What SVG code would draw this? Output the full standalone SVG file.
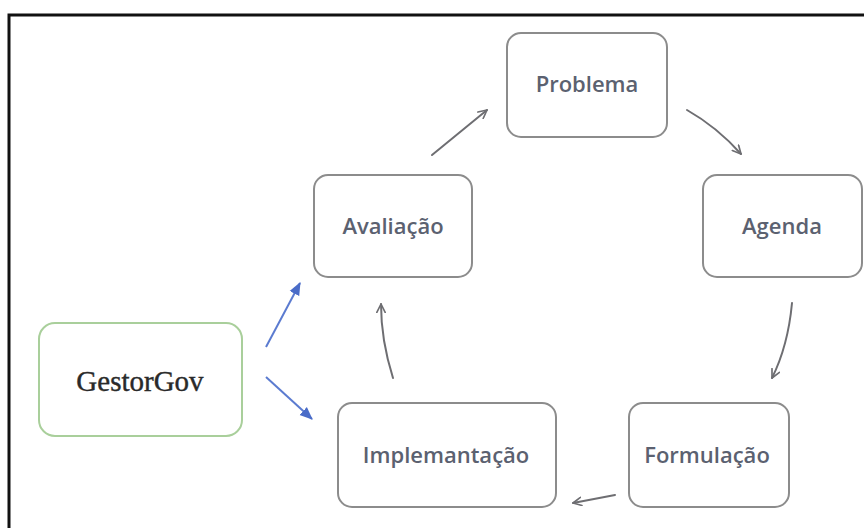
<svg xmlns="http://www.w3.org/2000/svg" width="864" height="528" viewBox="0 0 864 528">
  <style>
    .box { fill: #ffffff; stroke: #8c8c8c; stroke-width: 2; }
    .gov { fill: #ffffff; stroke: #a9cf9b; stroke-width: 2; }
    .lbl { font-family: "Open Sans", "Noto Sans", "Liberation Sans", sans-serif; font-size: 22px; font-weight: 600; fill: #5b6170; text-anchor: middle; }
    .gtxt { font-family: "Liberation Serif", "Times New Roman", serif; font-size: 29px; fill: #2a2a2a; stroke: #2a2a2a; stroke-width: 0.4; text-anchor: middle; }
    .flow { fill: none; stroke: #6e6e72; stroke-width: 2; stroke-linecap: round; marker-end: url(#open); }
    .link { fill: none; stroke: #5b7bd0; stroke-width: 2; marker-end: url(#solid); }
  </style>
  <defs>
    <marker id="open" viewBox="0 0 12 12" refX="11" refY="6" markerWidth="10" markerHeight="10" markerUnits="userSpaceOnUse" orient="auto">
      <path d="M1,1 L11,6 L1,11" fill="none" stroke="#6e6e72" stroke-width="2" stroke-linecap="round" stroke-linejoin="round"/>
    </marker>
    <marker id="solid" viewBox="0 0 12 12" refX="11" refY="6" markerWidth="13" markerHeight="13" markerUnits="userSpaceOnUse" orient="auto">
      <path d="M0,1 L12,6 L0,11 Z" fill="#4a6cc8"/>
    </marker>
  </defs>

  <rect width="864" height="528" fill="#ffffff"/>
  <!-- outer frame (right and bottom sides run off the canvas) -->
  <rect x="9" y="15" width="880" height="540" fill="none" stroke="#111111" stroke-width="3"/>

  <g id="connectors">
    <path class="flow" d="M432,155 L487,110"/>
    <path class="flow" d="M687,110 Q717,127 741,154"/>
    <path class="flow" d="M792,303 Q788,346 772,378"/>
    <path class="flow" d="M615,495 L573,503"/>
    <path class="flow" d="M393,378 Q381,340 381,304"/>
    <path class="link" d="M266,347 L300,283"/>
    <path class="link" d="M266,377 L312,419"/>
  </g>

  <g id="problema">
    <rect class="box" x="507" y="33" width="160" height="104" rx="14"/>
    <text class="lbl" x="587" y="92">Problema</text>
  </g>
  <g id="agenda">
    <rect class="box" x="703" y="175" width="159" height="102" rx="14"/>
    <text class="lbl" x="782" y="234">Agenda</text>
  </g>
  <g id="avaliacao">
    <rect class="box" x="314" y="175" width="158" height="102" rx="14"/>
    <text class="lbl" x="393" y="234">Avaliação</text>
  </g>
  <g id="formulacao">
    <rect class="box" x="629" y="403" width="160" height="104" rx="14"/>
    <text class="lbl" x="707" y="463">Formulação</text>
  </g>
  <g id="implemantacao">
    <rect class="box" x="338" y="403" width="218" height="104" rx="14"/>
    <text class="lbl" x="446" y="463">Implemantação</text>
  </g>
  <g id="gestorgov">
    <rect class="gov" x="39" y="323" width="203" height="113" rx="16"/>
    <text class="gtxt" x="140" y="391">GestorGov</text>
  </g>
</svg>
